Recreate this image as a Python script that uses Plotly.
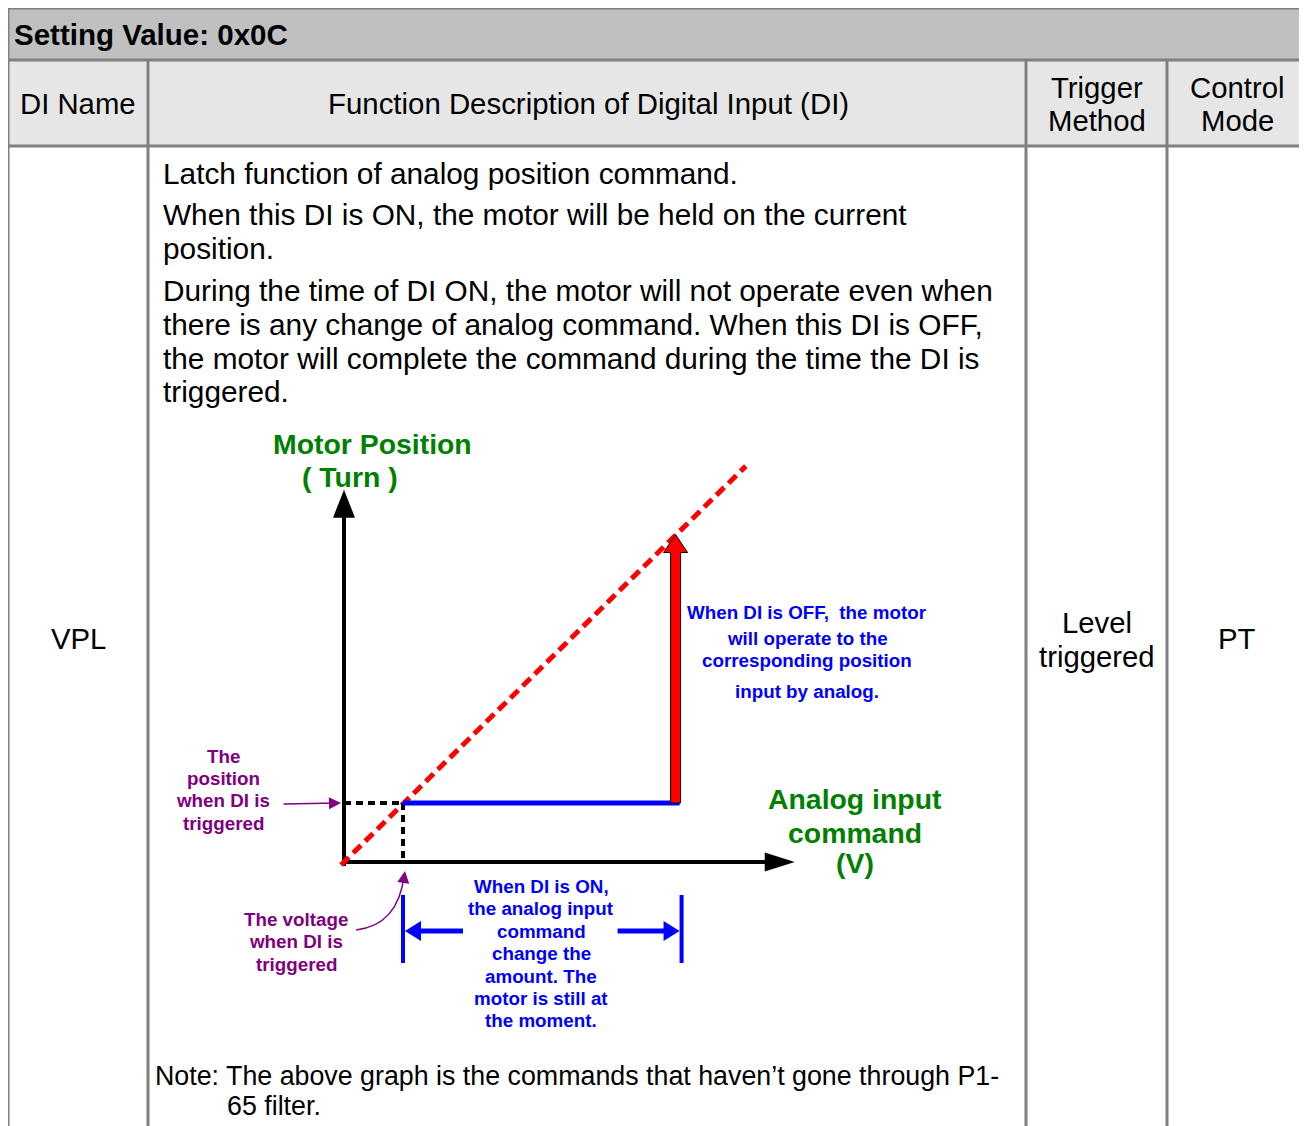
import plotly.graph_objects as go

# ---------------- data ----------------
HEADER_TITLE = "Setting Value: 0x0C"
COLUMN_HEADERS = ["DI Name", "Function Description of Digital Input (DI)", ["Trigger", "Method"], ["Control", "Mode"]]
DI_NAME = "VPL"
TRIGGER_METHOD = ["Level", "triggered"]
CONTROL_MODE = "PT"
DESCRIPTION_LINES = [
    "Latch function of analog position command.",
    "When this DI is ON, the motor will be held on the current",
    "position.",
    "During the time of DI ON, the motor will not operate even when",
    "there is any change of analog command. When this DI is OFF,",
    "the motor will complete the command during the time the DI is",
    "triggered.",
]
NOTE_LINES = ["Note: The above graph is the commands that haven\u2019t gone through P1-", "65 filter."]

# diagram values (analog input command in V units, motor position in turn units)
CMD_V = [0.0, 6.81]          # command line (position follows analog input)
CMD_POS = [0.0, 6.71]
V_TRIGGER = 1.0              # voltage when DI is triggered
POS_TRIGGER = 1.0            # position when DI is triggered
V_RELEASE = 5.62             # analog input when DI turns OFF
POS_TARGET = 5.55            # corresponding position input by analog
X_AXIS_MAX = 7.64
Y_AXIS_MAX = 6.31

Y_LABEL = ["Motor Position", "( Turn )"]
X_LABEL = ["Analog input", "command", "(V)"]
POS_NOTE = ["The", "position", "when DI is", "triggered"]
VOLT_NOTE = ["The voltage", "when DI is", "triggered"]
OFF_NOTE = ["When DI is OFF,  the motor", "will operate to the", "corresponding position", "input by analog."]
ON_NOTE = ["When DI is ON,", "the analog input", "command", "change the", "amount. The", "motor is still at", "the moment."]

# ---------------- layout constants ----------------
PAGE_W, PAGE_H = 1307, 1126
BODY = 8                  # browser body margin offset
W, H = PAGE_W - BODY, PAGE_H - BODY
PX = 59.0                 # pixels per diagram unit
OX, OY = 344, 862         # diagram origin in page pixels
FONT = "Arial, 'Liberation Sans', sans-serif"
GRAY = "#808080"
GREEN = "#008000"
PURPLE = "#800080"
BLUE = "#0000ff"
RED = "#ff0000"
SMALL = 18.8

fig = go.Figure()
shapes = []
ann = []


def u(px):
    return px / PX


def text(x, y, s, size, color="black", bold=False, anchor="center"):
    if bold:
        s = "<b>" + s + "</b>"
    ann.append(dict(x=x, y=y, xref="x", yref="y", text=s, showarrow=False,
                    xanchor=anchor, yanchor="middle",
                    font=dict(family=FONT, size=size, color=color)))


# ---------------- table ----------------
L, R, T = 8, 1305, 8
ROW1, ROW2 = 60, 146
COLS = [148, 1026, 1167]
shapes.append(dict(type="rect", xref="x", yref="y", x0=L, x1=R, y0=T, y1=ROW1,
                   fillcolor="#c0c0c0", line=dict(width=0), layer="below"))
shapes.append(dict(type="rect", xref="x", yref="y", x0=L, x1=R, y0=ROW1, y1=ROW2,
                   fillcolor="#e6e6e6", line=dict(width=0), layer="below"))
for yy in [T, ROW1, ROW2]:
    shapes.append(dict(type="line", xref="x", yref="y", x0=L - 1, x1=R + 1, y0=yy, y1=yy,
                       line=dict(color=GRAY, width=3), layer="below"))
for xx in [L, R]:
    shapes.append(dict(type="line", xref="x", yref="y", x0=xx, x1=xx, y0=T, y1=PAGE_H + 5,
                       line=dict(color=GRAY, width=3), layer="below"))
for xx in COLS:
    shapes.append(dict(type="line", xref="x", yref="y", x0=xx, x1=xx, y0=ROW1, y1=PAGE_H + 5,
                       line=dict(color=GRAY, width=3), layer="below"))

text(12, 34, HEADER_TITLE, 29.5, bold=True, anchor="left")
text(78, 103, COLUMN_HEADERS[0], 29.3)
text(588, 103, COLUMN_HEADERS[1], 29.4)
for i, s in enumerate(COLUMN_HEADERS[2]):
    text(1097, 87 + 33 * i, s, 29.3)
for i, s in enumerate(COLUMN_HEADERS[3]):
    text(1237, 87 + 33 * i, s, 29.3)
text(78, 638, DI_NAME, 29.3)
for i, s in enumerate(TRIGGER_METHOD):
    text(1097, 622 + 34 * i, s, 29.3)
text(1237, 638, CONTROL_MODE, 29.3)

desc_y = [173, 214, 248, 290, 324, 358, 391]
for s, yy in zip(DESCRIPTION_LINES, desc_y):
    text(161, yy, s, 29.8, anchor="left")
text(153, 1076, NOTE_LINES[0], 26.8, anchor="left")
text(225, 1106, NOTE_LINES[1], 26.8, anchor="left")

# ---------------- diagram (x2 / y2 in data units) ----------------
def seg(x, y, color, width, dash="solid", name=""):
    fig.add_trace(go.Scatter(x=x, y=y, xaxis="x2", yaxis="y2", mode="lines",
                             line=dict(color=color, width=width, dash=dash),
                             hoverinfo="skip", showlegend=False, name=name))


def head(tx, ty, dx, dy, length_px, width_px, color, outline=None):
    # filled triangle with tip (tx,ty) pointing in direction (dx,dy)
    ln, wd = u(length_px), u(width_px) / 2
    bx, by = tx - dx * ln, ty - dy * ln
    px_, py_ = -dy, dx
    p = (f"M {tx},{ty} L {bx + px_ * wd},{by + py_ * wd} "
         f"L {bx - px_ * wd},{by - py_ * wd} Z")
    shapes.append(dict(type="path", xref="x2", yref="y2", path=p, fillcolor=color,
                       line=dict(color=outline or color, width=1 if outline else 0)))


# axes
seg([0, 0], [-u(4), Y_AXIS_MAX - u(26)], "black", 4, name="y axis")
head(0, Y_AXIS_MAX, 0, 1, 28, 22, "black")
seg([-u(2), X_AXIS_MAX - u(27)], [0, 0], "black", 4, name="x axis")
head(X_AXIS_MAX, 0, 1, 0, 30, 19, "black")

# command line
seg([CMD_V[0] - u(3), CMD_V[1]], [CMD_POS[0] - u(3), CMD_POS[1]], RED, 5, dash="11px,6px", name="command")

# dashed trigger guides
seg([0, V_TRIGGER], [POS_TRIGGER, POS_TRIGGER], "black", 4, dash="7px,5px", name="pos trig")
seg([V_TRIGGER, V_TRIGGER], [POS_TRIGGER, 0], "black", 4, dash="7px,5px", name="volt trig")

# held position
seg([V_TRIGGER, V_RELEASE + u(4)], [POS_TRIGGER, POS_TRIGGER], BLUE, 5, name="held")

# red arrow (motor catches up)
sw, hw, hl = u(5), u(12), u(18)
xr = V_RELEASE
p = (f"M {xr - sw},{POS_TRIGGER} L {xr - sw},{POS_TARGET - hl} L {xr - hw},{POS_TARGET - hl} "
     f"L {xr},{POS_TARGET} L {xr + hw},{POS_TARGET - hl} L {xr + sw},{POS_TARGET - hl} "
     f"L {xr + sw},{POS_TRIGGER} Z")
shapes.append(dict(type="path", xref="x2", yref="y2", path=p, fillcolor=RED,
                   line=dict(color="black", width=1)))

# dimension markers (analog change while DI ON)
bar_top, bar_bot, arr_y = u(OY - 895), u(OY - 963), u(OY - 931)
for xv in [V_TRIGGER, V_RELEASE + u(6)]:
    seg([xv, xv], [bar_top, bar_bot], BLUE, 4, name="bar")
seg([V_TRIGGER + u(14), V_TRIGGER + u(60)], [arr_y, arr_y], BLUE, 5, name="left arr")
head(V_TRIGGER + u(2), arr_y, -1, 0, 16, 20, BLUE)
seg([V_RELEASE + u(-58), V_RELEASE + u(-10)], [arr_y, arr_y], BLUE, 5, name="right arr")
head(V_RELEASE + u(4), arr_y, 1, 0, 16, 20, BLUE)

# purple leader arrows
ann.append(dict(x=-u(3), y=POS_TRIGGER, xref="x2", yref="y2", ax=-u(62), ay=POS_TRIGGER - u(1),
                axref="x2", ayref="y2", showarrow=True, arrowhead=2, arrowsize=1.6,
                arrowwidth=1.5, arrowcolor=PURPLE, text=""))
cx0, cy0 = u(356 - OX), u(OY - 930)
cx1, cy1 = V_TRIGGER + u(1), -u(14)
shapes.append(dict(type="path", xref="x2", yref="y2",
                   path=f"M {cx0},{cy0} Q {u(398 - OX)},{u(OY - 925)} {cx1},{cy1}",
                   line=dict(color=PURPLE, width=1.5)))
ann.append(dict(x=V_TRIGGER + u(2), y=-u(9), xref="x2", yref="y2", ax=cx1, ay=cy1 - u(2),
                axref="x2", ayref="y2", showarrow=True, arrowhead=2, arrowsize=1.6,
                arrowwidth=1.5, arrowcolor=PURPLE, text=""))

# diagram labels
text(372, 444, Y_LABEL[0], 28.4, GREEN, True)
text(350, 477, Y_LABEL[1], 28.4, GREEN, True)
for s, yy in zip(X_LABEL, [799, 833, 863]):
    text(855, yy, s, 28.4, GREEN, True)
for s, yy in zip(POS_NOTE, [756, 778, 800, 823]):
    text(223, yy, s, SMALL, PURPLE, True)
for s, yy in zip(VOLT_NOTE, [919, 941, 964]):
    text(296, yy, s, SMALL, PURPLE, True)
for s, yy in zip(OFF_NOTE, [612, 638, 660, 691]):
    text(807, yy, s, SMALL, BLUE, True)
for s, yy in zip(ON_NOTE, [886, 908, 931, 953, 976, 998, 1020]):
    text(541, yy, s, SMALL, BLUE, True)

fig.update_layout(
    width=W, height=H, margin=dict(l=0, r=0, t=0, b=0),
    paper_bgcolor="white", plot_bgcolor="white", showlegend=False,
    xaxis=dict(range=[BODY, PAGE_W], visible=False, fixedrange=True),
    yaxis=dict(range=[PAGE_H, BODY], visible=False, fixedrange=True),
    xaxis2=dict(range=[(BODY - OX) / PX, (PAGE_W - OX) / PX], overlaying="x", visible=False, fixedrange=True),
    yaxis2=dict(range=[(OY - PAGE_H) / PX, (OY - BODY) / PX], overlaying="y", visible=False, fixedrange=True),
    shapes=shapes, annotations=ann,
)
fig.write_html("out.html")
